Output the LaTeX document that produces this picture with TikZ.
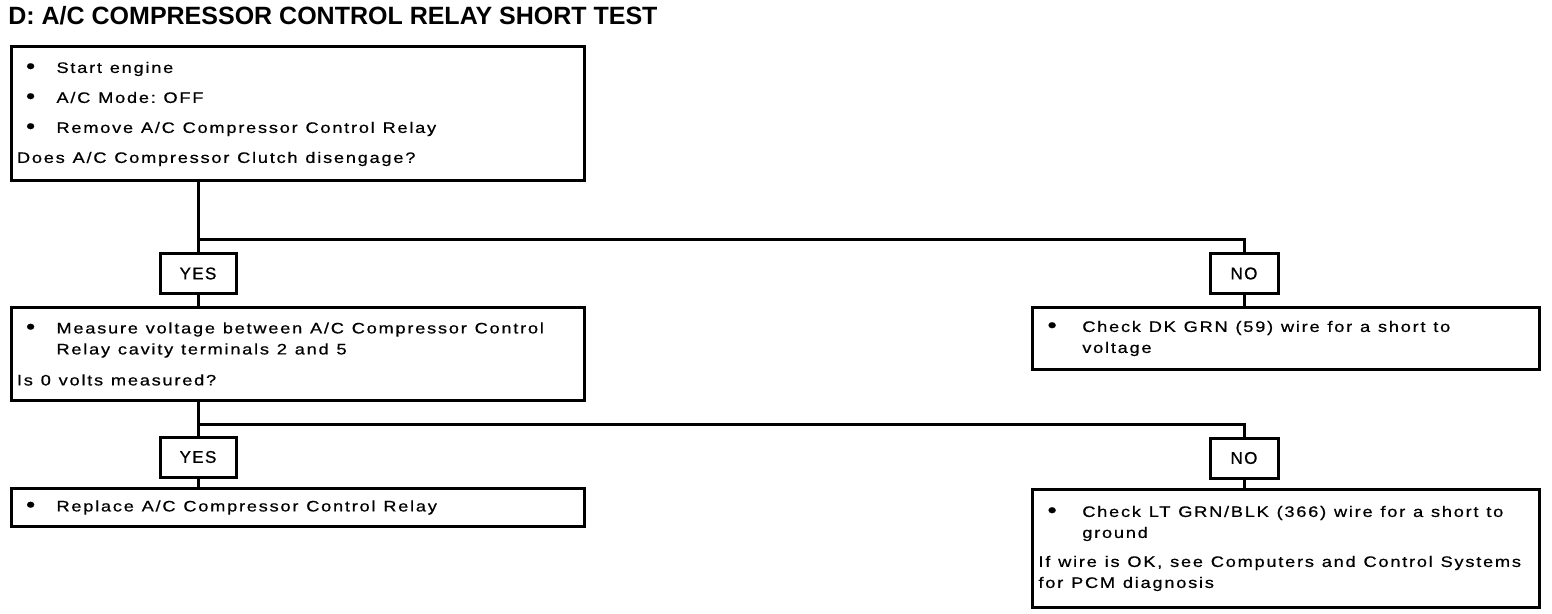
\documentclass[tikz,border=0pt]{standalone}
\usepackage{fontspec}
\setmainfont{Liberation Sans}
\newfontfamily\stepfont[FakeStretch=1.2,LetterSpace=11.5,FakeBold=0.6]{Liberation Sans}
\newfontfamily\answerfont[LetterSpace=8,FakeBold=0.8]{Liberation Sans}
\usetikzlibrary{positioning,calc}
\newcommand{\bitem}[1][19.75pt]{\makebox[#1][l]{\hspace{4.5pt}\raisebox{-0.3pt}{\fontsize{11}{11}\selectfont\textbullet}}}
\newcommand{\bcont}[1][19.75pt]{\hspace*{#1}}

\begin{document}
\begin{tikzpicture}[x=0.5pt, y=-0.5pt,
        every node/.style={inner sep=0pt},
        stepbox/.style={draw, line width=1.5pt, anchor=north west, align=left,
            inner xsep=3pt, font=\stepfont\fontsize{7.6}{10.5}\selectfont,
            execute at begin node={\spaceskip=3.9pt plus 1pt minus 0.5pt\relax}},
        answer/.style={draw, line width=1.5pt, minimum height=20pt,
            font=\answerfont\fontsize{8.5}{10}\selectfont},
        flow/.style={line width=1.5pt}]
    \useasboundingbox (0,0) rectangle (1552,614);
    \node[anchor=base west, font=\fontsize{12.5}{14}\selectfont\bfseries] (title) at (8,25)
        {D: A/C COMPRESSOR CONTROL RELAY SHORT TEST};
    % first test
    \node[stepbox, text width=280.5pt, minimum height=67pt] (start) at (9.5,45.5)
        {\bitem Start engine\\[4.5pt]
         \bitem A/C Mode: OFF\\[4.5pt]
         \bitem Remove A/C Compressor Control Relay\\[4.5pt]
         Does A/C Compressor Clutch disengage?};
    \coordinate (fork1) at (200,240);
    \node[answer, minimum width=38pt] (yes1) at (198,273.5) {YES};
    \node[answer, minimum width=34pt] (no1) at (1244,273.5) {NO};
    \node[stepbox, text width=280.5pt, minimum height=46.5pt] (measure) at (9.5,306)
        {\bitem Measure voltage between A/C Compressor Control\\
         \bcont Relay cavity terminals 2 and 5\\[5pt]
         Is 0 volts measured?};
    \node[stepbox, text width=247.5pt, minimum height=31pt] (dkgrn) at (1031,306)
        {\bitem[18pt] Check DK GRN (59) wire for a short to\\
         \bcont[18pt] voltage};
    % second test
    \coordinate (fork2) at (200,425);
    \node[answer, minimum width=38pt] (yes2) at (198,457) {YES};
    \node[answer, minimum width=34pt] (no2) at (1244,458) {NO};
    \node[stepbox, text width=280.5pt, minimum height=19pt] (replace) at (9.5,487)
        {\bitem Replace A/C Compressor Control Relay};
    \node[stepbox, text width=247.5pt, minimum height=59pt] (ltgrn) at (1031,488)
        {\bitem[18pt] Check LT GRN/BLK (366) wire for a short to\\
         \bcont[18pt] ground\\[4pt]
         If wire is OK, see Computers and Control Systems\\
         for PCM diagnosis};
    % connectors
    \draw[flow] (start.south -| yes1) -- (yes1);
    \draw[flow] (yes1 |- fork1) -| (no1);
    \draw[flow] (yes1) -- (yes1 |- measure.north);
    \draw[flow] (no1) -- (no1 |- dkgrn.north);
    \draw[flow] (measure.south -| yes2) -- (yes2);
    \draw[flow] (yes2 |- fork2) -| (no2);
    \draw[flow] (yes2) -- (yes2 |- replace.north);
    \draw[flow] (no2) -- (no2 |- ltgrn.north);
\end{tikzpicture}
\end{document}
